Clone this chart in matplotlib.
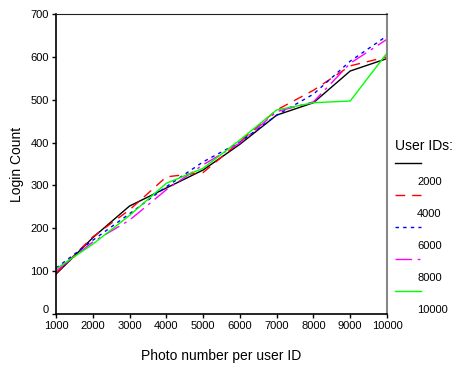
import matplotlib
matplotlib.use("Agg")
import matplotlib.pyplot as plt
from matplotlib.lines import Line2D
import matplotlib.transforms as mtransforms

plt.rcParams['font.family'] = ['Liberation Sans', 'DejaVu Sans']

photo_numbers = [1000, 2000, 3000, 4000, 5000, 6000, 7000, 8000, 9000, 10000]
user_ids = ["2000", "4000", "6000", "8000", "10000"]
login_2000 = [93, 178, 252, 294, 336, 396, 464, 493, 567, 596]
login_4000 = [95, 180, 243, 320, 330, 402, 476, 522, 579, 600]
login_6000 = [107, 172, 234, 297, 355, 401, 464, 513, 590, 649]
login_8000 = [100, 168, 219, 290, 348, 399, 472, 495, 585, 641]
login_10000 = [105, 163, 230, 305, 340, 406, 476, 493, 497, 609]
series = [login_2000, login_4000, login_6000, login_8000, login_10000]
colors = ['black', '#ff0000', '#0000ff', '#ff00ff', '#00ff00']
dashes = [None, (7, 5), (2.5, 3), (12, 4, 2, 4), None]
y_ticks = [0, 100, 200, 300, 400, 500, 600, 700]
x_ticks = photo_numbers

W, H = 453, 369
fig = plt.figure(figsize=(W / 100, H / 100), dpi=100)
ax = fig.add_axes([56 / W, 1 - 314 / H, (387 - 56) / W, (314 - 14) / H])

for vals, c, d in zip(series, colors, dashes):
    ln, = ax.plot(photo_numbers, vals, color=c, lw=1.0)
    if d is not None:
        ln.set_dashes(d)

ax.set_xlim(1000, 10000)
ax.set_ylim(0, 700)
ax.set_xticks(x_ticks)
ax.set_yticks(y_ticks)
ax.tick_params(labelsize=8, length=3, width=1, direction='out', pad=2)
ax.spines['top'].set_color('#222222')
ax.spines['right'].set_color('#888888')
ax.spines['right'].set_linewidth(1.5)
for s in ['left', 'bottom']:
    ax.spines[s].set_linewidth(1.2)
ax.set_xlabel('Photo number per user ID', fontsize=10, labelpad=13)
ax.set_ylabel('Login Count', fontsize=10, labelpad=5)

fig.canvas.draw()
zero_lbl = ax.get_yticklabels()[0]
zero_lbl.set_transform(zero_lbl.get_transform() +
                       mtransforms.ScaledTranslation(0, 5 / 100, fig.dpi_scale_trans))

# legend drawn manually: line above, label below
fig.text(395 / W, 1 - 146 / H, 'User IDs:', fontsize=10, va='center', ha='left')
y0 = 163
for i, (uid, c, d) in enumerate(zip(user_ids, colors, dashes)):
    yl = y0 + i * 32
    ln = Line2D([395 / W, 421 / W], [1 - yl / H, 1 - yl / H], color=c, lw=1.0,
                transform=fig.transFigure)
    if d is not None:
        ln.set_dashes(d)
    fig.add_artist(ln)
    fig.text(417 / W, 1 - (yl + 19) / H, uid, fontsize=8, va='center', ha='left')

fig.savefig('out.png', dpi=100)
